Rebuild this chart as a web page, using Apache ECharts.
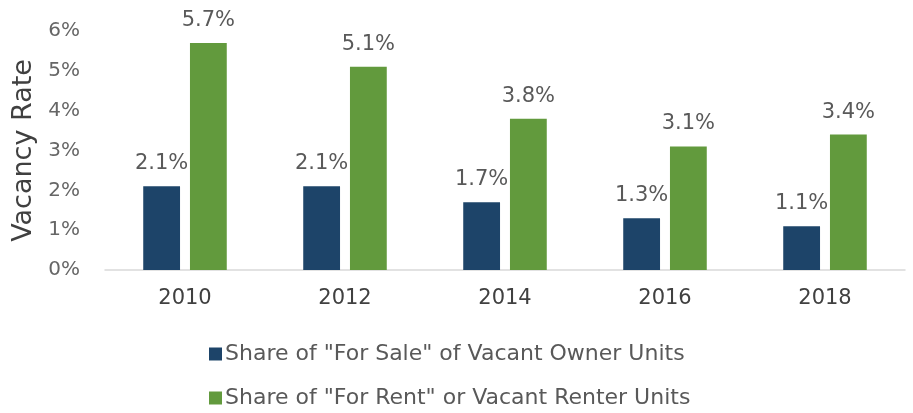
<!DOCTYPE html>
<html>
<head>
<meta charset="utf-8">
<script src="https://cdn.jsdelivr.net/npm/echarts@6/dist/echarts.min.js"></script>
<style>
  html, body { margin: 0; padding: 0; background: #fff; }
  #chart { width: 913px; height: 413px; }
</style>
</head>
<body>
<div id="chart"></div>
<script>
// Vacancy rates by survey year
const years = ['2010', '2012', '2014', '2016', '2018'];
const forSale = [2.1, 2.1, 1.7, 1.3, 1.1];
const forRent = [5.7, 5.1, 3.8, 3.1, 3.4];
const seriesNames = [
  'Share of "For Sale" of Vacant Owner Units',
  'Share of "For Rent" or Vacant Renter Units'
];

const FONT = '"DejaVu Sans"';
const TEXT = '#595959';

const chart = echarts.init(document.getElementById('chart'));

const labelStyle = {
  show: true,
  position: 'top',
  distance: 12,
  color: TEXT,
  fontFamily: FONT,
  fontSize: 21,
  formatter: p => p.value.toFixed(1) + '%'
};

// one legend block per row so the two entries stack
const legendRow = (name, top) => ({
  left: 204,
  top: top,
  itemWidth: 13,
  itemHeight: 13,
  icon: 'rect',
  textStyle: { color: TEXT, fontFamily: FONT, fontSize: 22, padding: [0, 0, 0, -2] },
  data: [name]
});

chart.setOption({
  animation: false,
  textStyle: { fontFamily: FONT },
  grid: { left: 105, right: 8, top: 31, bottom: 143, containLabel: false },
  xAxis: {
    type: 'category',
    data: years,
    axisLine: { lineStyle: { color: '#d9d9d9', width: 1.5 } },
    axisTick: { show: false },
    axisLabel: { color: '#404040', fontFamily: FONT, fontSize: 21, margin: 18 }
  },
  yAxis: {
    type: 'value',
    min: 0,
    max: 6,
    interval: 1,
    name: 'Vacancy Rate',
    nameLocation: 'middle',
    nameGap: 68,
    nameTextStyle: { color: '#404040', fontFamily: FONT, fontSize: 27 },
    splitLine: { show: false },
    axisLine: { show: false },
    axisTick: { show: false },
    axisLabel: { color: '#666666', fontFamily: FONT, fontSize: 20, margin: 25, formatter: v => v + '%' }
  },
  legend: [
    legendRow(seriesNames[0], 338),
    legendRow(seriesNames[1], 382)
  ],
  series: [
    {
      name: seriesNames[0],
      type: 'bar',
      data: forSale,
      barWidth: '23%',
      barGap: '27%',
      itemStyle: { color: '#1D4469' },
      label: labelStyle
    },
    {
      name: seriesNames[1],
      type: 'bar',
      data: forRent,
      barWidth: '23%',
      itemStyle: { color: '#629A3D' },
      label: labelStyle
    }
  ]
});
</script>
</body>
</html>
